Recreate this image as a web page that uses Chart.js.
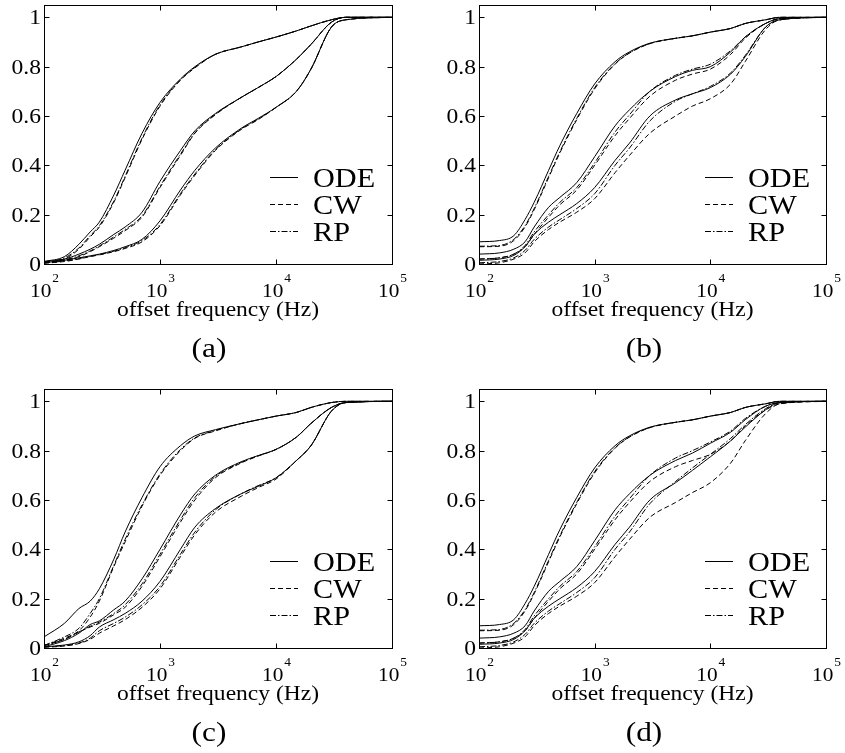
<!DOCTYPE html>
<html>
<head>
<meta charset="utf-8">
<script src="https://cdn.jsdelivr.net/npm/chart.js@4"></script>
<style>
body { margin: 0; background: #fff; }
#wrap { position: relative; width: 845px; height: 753px; }
canvas { position: absolute; }
</style>
</head>
<body>
<div id="wrap">
<canvas id="pa" width="420" height="376" style="left:0;top:0"></canvas>
<canvas id="pb" width="425" height="376" style="left:420px;top:0"></canvas>
<canvas id="pc" width="420" height="377" style="left:0;top:376px"></canvas>
<canvas id="pd" width="425" height="377" style="left:420px;top:376px"></canvas>
</div>
<script>
// offset frequencies (Hz) where the curves were read
const freq = [100,150,200,250,300,400,500,700,1000,1500,2000,3000,5000,7000,10000,15000,20000,30000,40000,100000];

const xTicks = [100,1000,10000,100000];
const xTickExp = ['2','3','4','5'];
const yTicks = [0,0.2,0.4,0.6,0.8,1];
const yTickLabels = ['0','0.2','0.4','0.6','0.8','1'];
const legendNames = ['ODE','CW','RP'];
const xTitle = 'offset frequency (Hz)';

// panel (a)
const aOde1 = [0.01,0.03,0.08,0.13,0.17,0.28,0.38,0.53,0.655,0.75,0.80,0.85,0.88,0.90,0.92,0.945,0.965,0.99,1,1];
const aCw1  = [0.005,0.02,0.06,0.11,0.15,0.25,0.35,0.505,0.64,0.745,0.795,0.85,0.88,0.90,0.92,0.945,0.965,0.99,1,1];
const aRp1  = [0.007,0.025,0.065,0.115,0.155,0.255,0.355,0.51,0.645,0.747,0.797,0.85,0.88,0.90,0.92,0.945,0.965,0.99,1,1];
const aOde2 = [0.01,0.02,0.04,0.06,0.08,0.12,0.15,0.21,0.335,0.46,0.54,0.61,0.675,0.715,0.76,0.83,0.89,0.98,1,1];
const aCw2  = [0.005,0.015,0.03,0.05,0.07,0.105,0.135,0.19,0.31,0.44,0.53,0.605,0.675,0.715,0.76,0.83,0.89,0.98,1,1];
const aRp2  = [0.007,0.017,0.033,0.053,0.073,0.11,0.14,0.195,0.315,0.445,0.532,0.607,0.675,0.715,0.76,0.83,0.89,0.98,1,1];
const aOde3 = [0.005,0.015,0.025,0.033,0.04,0.055,0.07,0.10,0.175,0.30,0.38,0.47,0.55,0.59,0.635,0.70,0.79,0.96,0.99,1];
const aCw3  = [0.003,0.01,0.02,0.03,0.037,0.05,0.063,0.09,0.155,0.28,0.36,0.46,0.545,0.585,0.635,0.70,0.79,0.96,0.99,1];
const aRp3  = [0.004,0.012,0.022,0.031,0.038,0.052,0.066,0.095,0.16,0.285,0.365,0.463,0.547,0.587,0.635,0.70,0.79,0.96,0.99,1];

// panel (b)
const bOde1 = [0.09,0.095,0.115,0.18,0.25,0.38,0.48,0.61,0.73,0.82,0.86,0.895,0.915,0.925,0.94,0.955,0.975,0.99,1,1];
const bCw1  = [0.07,0.072,0.095,0.15,0.22,0.35,0.45,0.585,0.71,0.81,0.855,0.893,0.915,0.925,0.94,0.955,0.975,0.99,1,1];
const bRp1  = [0.072,0.075,0.1,0.155,0.225,0.355,0.455,0.59,0.715,0.812,0.856,0.894,0.915,0.925,0.94,0.955,0.975,0.99,1,1];
const bOde2 = [0.04,0.045,0.06,0.09,0.15,0.23,0.27,0.33,0.435,0.56,0.625,0.70,0.76,0.785,0.80,0.86,0.92,0.975,0.995,1];
const bCw2  = [0.02,0.025,0.04,0.07,0.12,0.19,0.24,0.30,0.40,0.52,0.59,0.68,0.745,0.77,0.79,0.85,0.915,0.975,0.995,1];
const bRp2  = [0.02,0.025,0.04,0.075,0.13,0.20,0.25,0.31,0.41,0.535,0.605,0.70,0.765,0.79,0.81,0.865,0.92,0.975,0.995,1];
const bOde3 = [0.015,0.02,0.035,0.07,0.12,0.17,0.20,0.245,0.31,0.42,0.49,0.60,0.665,0.69,0.715,0.77,0.84,0.96,0.99,1];
const bCw3  = [0,0.005,0.02,0.045,0.09,0.14,0.17,0.21,0.265,0.37,0.44,0.53,0.60,0.64,0.67,0.73,0.82,0.95,0.99,1];
const bRp3  = [0.005,0.01,0.025,0.055,0.10,0.15,0.18,0.225,0.285,0.40,0.47,0.58,0.66,0.69,0.72,0.775,0.845,0.96,0.99,1];

// panel (c)
const cOde1 = [0.045,0.10,0.16,0.19,0.24,0.36,0.47,0.61,0.735,0.82,0.86,0.885,0.91,0.925,0.94,0.955,0.975,0.995,1,1];
const cCw1  = [0.01,0.04,0.07,0.125,0.19,0.33,0.43,0.575,0.70,0.80,0.85,0.88,0.91,0.925,0.94,0.955,0.975,0.995,1,1];
const cRp1  = [0.01,0.045,0.08,0.14,0.20,0.335,0.44,0.58,0.705,0.805,0.852,0.882,0.91,0.925,0.94,0.955,0.975,0.995,1,1];
const cOde2 = [0.005,0.03,0.06,0.095,0.11,0.155,0.19,0.28,0.40,0.54,0.625,0.70,0.755,0.78,0.805,0.855,0.91,0.975,0.995,1];
const cCw2  = [0.01,0.035,0.065,0.085,0.10,0.135,0.165,0.25,0.37,0.51,0.60,0.69,0.75,0.778,0.805,0.855,0.91,0.975,0.995,1];
const cRp2  = [0.01,0.035,0.065,0.088,0.105,0.14,0.175,0.26,0.38,0.52,0.61,0.695,0.752,0.779,0.805,0.855,0.91,0.975,0.995,1];
const cOde3 = [0.005,0.012,0.025,0.05,0.085,0.115,0.14,0.19,0.27,0.40,0.49,0.565,0.625,0.655,0.69,0.76,0.82,0.96,0.995,1];
const cCw3  = [0.003,0.008,0.018,0.035,0.06,0.09,0.115,0.165,0.24,0.37,0.46,0.55,0.615,0.65,0.685,0.76,0.82,0.96,0.995,1];
const cRp3  = [0.004,0.01,0.02,0.04,0.07,0.10,0.125,0.175,0.25,0.38,0.47,0.56,0.625,0.658,0.69,0.76,0.82,0.96,0.995,1];

// panel (d)
const dOde1 = [0.09,0.095,0.115,0.18,0.25,0.38,0.48,0.61,0.73,0.82,0.86,0.895,0.915,0.925,0.94,0.955,0.975,0.99,1,1];
const dCw1  = [0.07,0.072,0.095,0.15,0.22,0.35,0.45,0.585,0.71,0.81,0.855,0.893,0.915,0.925,0.94,0.955,0.975,0.99,1,1];
const dRp1  = [0.072,0.075,0.1,0.155,0.225,0.355,0.455,0.59,0.715,0.812,0.856,0.894,0.915,0.925,0.94,0.955,0.975,0.99,1,1];
const dOde2 = [0.04,0.045,0.06,0.09,0.15,0.23,0.27,0.33,0.435,0.56,0.625,0.70,0.76,0.79,0.83,0.875,0.925,0.98,0.995,1];
const dCw2  = [0.02,0.025,0.04,0.07,0.12,0.19,0.24,0.30,0.40,0.52,0.59,0.675,0.735,0.76,0.785,0.84,0.90,0.965,0.99,1];
const dRp2  = [0.02,0.025,0.04,0.075,0.13,0.20,0.25,0.31,0.41,0.535,0.605,0.70,0.77,0.80,0.835,0.88,0.93,0.98,0.995,1];
const dOde3 = [0.015,0.02,0.035,0.07,0.12,0.17,0.20,0.245,0.31,0.42,0.49,0.60,0.67,0.72,0.775,0.84,0.895,0.965,0.995,1];
const dCw3  = [0,0.005,0.02,0.045,0.09,0.14,0.17,0.21,0.265,0.37,0.44,0.53,0.59,0.63,0.67,0.75,0.84,0.95,0.99,1];
const dRp3  = [0.005,0.01,0.025,0.055,0.10,0.15,0.18,0.225,0.285,0.40,0.47,0.585,0.675,0.73,0.785,0.85,0.905,0.97,0.995,1];

const FONT = '"Liberation Serif", serif';
const STRETCH = 1.12; // glyphs in the original are a bit wide
const dashes = { ODE: [], CW: [5,3], RP: [6,2,1.5,2] };

function txt(ctx, s, x, y, size, align) {
	ctx.save();
	ctx.font = size + 'px ' + FONT;
	ctx.fillStyle = '#000';
	ctx.textAlign = align;
	ctx.textBaseline = 'alphabetic';
	ctx.translate(x, y);
	ctx.scale(STRETCH, 1);
	ctx.fillText(s, 0, 0);
	ctx.restore();
}

function textW(ctx, s, size) {
	ctx.font = size + 'px ' + FONT;
	return ctx.measureText(s).width * STRETCH;
}

const axesPlugin = {
	id: 'axesPlugin',
	afterDraw(chart, args, opts) {
		var ctx = chart.ctx;
		var xs = chart.scales.x, ys = chart.scales.y;
		var a = chart.chartArea;
		var L = Math.round(a.left) + 0.5, R = Math.round(a.right) + 0.5;
		var T = Math.round(a.top) + 0.5, B = Math.round(a.bottom) + 0.5;
		ctx.save();
		ctx.strokeStyle = '#000';
		ctx.lineWidth = 1;
		ctx.setLineDash([]);
		ctx.strokeRect(L, T, R - L, B - T);
		// inward ticks on all four sides
		ctx.beginPath();
		xTicks.forEach(v => {
			var px = Math.round(xs.getPixelForValue(v)) + 0.5;
			ctx.moveTo(px, B); ctx.lineTo(px, B - 5);
			ctx.moveTo(px, T); ctx.lineTo(px, T + 5);
		});
		yTicks.forEach(v => {
			var py = Math.round(ys.getPixelForValue(v)) + 0.5;
			ctx.moveTo(L, py); ctx.lineTo(L + 5, py);
			ctx.moveTo(R, py); ctx.lineTo(R - 5, py);
		});
		ctx.stroke();
		ctx.restore();

		// y tick labels
		yTicks.forEach((v, i) => {
			txt(ctx, yTickLabels[i], a.left - 3, ys.getPixelForValue(v) + 7, 21, 'right');
		});
		// x tick labels, 10 with a raised exponent
		xTicks.forEach((v, i) => {
			var px = xs.getPixelForValue(v);
			var w1 = textW(ctx, '10', 19), w2 = textW(ctx, xTickExp[i], 12);
			var x0 = px - (w1 + w2) / 2;
			txt(ctx, '10', x0, a.bottom + 33, 19, 'left');
			txt(ctx, xTickExp[i], x0 + w1 + 1, a.bottom + 18, 12, 'left');
		});
		txt(ctx, xTitle, (a.left + a.right) / 2, a.bottom + 52, 21, 'center');
		txt(ctx, opts.tag, a.left + 165, a.bottom + 93, 28, 'center');

		// legend inside the axes
		legendNames.forEach((n, i) => {
			var base = a.bottom - 77 + i * 27;
			ctx.save();
			ctx.strokeStyle = '#000';
			ctx.lineWidth = 1;
			ctx.setLineDash(dashes[n]);
			ctx.beginPath();
			ctx.moveTo(a.left + 226, base - 9.5);
			ctx.lineTo(a.left + 254, base - 9.5);
			ctx.stroke();
			ctx.restore();
			txt(ctx, n, a.left + 269, base, 27, 'left');
		});
	}
};

function series(vals, kind) {
	return {
		label: kind,
		data: freq.map((f, i) => ({ x: f, y: vals[i] })),
		borderColor: '#000',
		borderWidth: 1,
		borderDash: dashes[kind],
		pointRadius: 0,
		fill: false,
		cubicInterpolationMode: 'monotone'
	};
}

function makePanel(id, tag, pad, groups) {
	var ds = [];
	groups.forEach(g => {
		ds.push(series(g[2], 'RP'));
		ds.push(series(g[1], 'CW'));
		ds.push(series(g[0], 'ODE'));
	});
	new Chart(document.getElementById(id), {
		type: 'line',
		data: { datasets: ds },
		options: {
			responsive: false,
			animation: false,
			devicePixelRatio: 1,
			layout: { padding: pad },
			scales: {
				x: { type: 'logarithmic', min: 100, max: 100000, display: false },
				y: { type: 'linear', min: 0, max: 1.05, display: false }
			},
			plugins: {
				legend: { display: false },
				tooltip: { enabled: false },
				axesPlugin: { tag: tag }
			}
		},
		plugins: [axesPlugin]
	});
}

function drawAll() {
	makePanel('pa', '(a)', { left: 44, right: 28, top: 5, bottom: 112 },
		[[aOde1, aCw1, aRp1], [aOde2, aCw2, aRp2], [aOde3, aCw3, aRp3]]);
	makePanel('pb', '(b)', { left: 59, right: 19, top: 5, bottom: 112 },
		[[bOde1, bCw1, bRp1], [bOde2, bCw2, bRp2], [bOde3, bCw3, bRp3]]);
	makePanel('pc', '(c)', { left: 44, right: 28, top: 13, bottom: 105 },
		[[cOde1, cCw1, cRp1], [cOde2, cCw2, cRp2], [cOde3, cCw3, cRp3]]);
	makePanel('pd', '(d)', { left: 59, right: 19, top: 13, bottom: 105 },
		[[dOde1, dCw1, dRp1], [dOde2, dCw2, dRp2], [dOde3, dCw3, dRp3]]);
}

if (document.fonts && document.fonts.load) {
	document.fonts.load('21px "Liberation Serif"').then(drawAll, drawAll);
} else {
	drawAll();
}
</script>
</body>
</html>
